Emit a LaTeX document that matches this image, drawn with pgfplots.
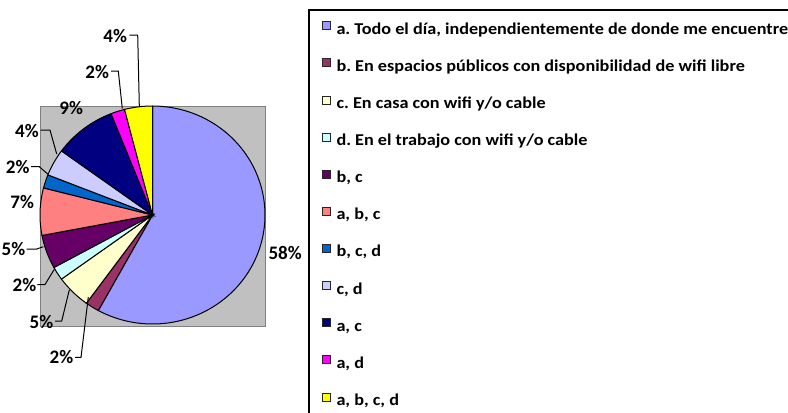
\documentclass[border=0pt]{standalone}
\usepackage{fontspec}
\setmainfont{Carlito}
\newfontfamily\legfont{Carlito}[FakeStretch=1.1]
\usepackage{pgfplots}
\pgfplotsset{compat=1.18}
\frenchspacing
\definecolor{ca}{HTML}{9999FF}
\definecolor{cb}{HTML}{993366}
\definecolor{cc}{HTML}{FFFFCC}
\definecolor{cd}{HTML}{CCFFFF}
\definecolor{cbc}{HTML}{660066}
\definecolor{cabc}{HTML}{FF8080}
\definecolor{cbcd}{HTML}{0066CC}
\definecolor{ccd}{HTML}{CCCCFF}
\definecolor{cac}{HTML}{000080}
\definecolor{cad}{HTML}{FF00FF}
\definecolor{cabcd}{HTML}{FFFF00}
\definecolor{plotgray}{HTML}{C0C0C0}
\definecolor{bordergray}{HTML}{808080}
% pie geometry (pixel units of the axis)
\def\cx{152.5}\def\cy{215}\def\rx{112.5}\def\ry{109}
\def\astart{90}
\newcommand\slice[3]{%
  \pgfmathsetmacro\aend{\astart-3.6*#1}%
  \edef\temp{\noexpand\addplot[fill=#2, draw=black, line width=0.75pt, domain=\aend:\astart, samples=90]
    ({\cx+\rx*cos(x)},{\cy-\ry*sin(x)}) -- (axis cs:\cx,\cy) -- cycle;}%
  \temp
  \addlegendentry{#3}%
  \global\let\astart\aend
}
\begin{document}
\begin{tikzpicture}
\begin{axis}[
  at={(0,0)}, anchor=south west,
  scale only axis, width=591pt, height=309pt,
  xmin=0, xmax=788, ymin=0, ymax=412, y dir=reverse,
  hide axis, clip=true,
  legend image code/.code={\draw[#1, draw=black!85, line width=0.7pt] (0pt,0.75pt) rectangle (6pt,6.75pt);},
  legend style={draw=none, fill=none, at={(axis cs:321.7,21)}, anchor=north west,
    inner sep=0pt, row sep=15.25pt, column sep=4.2pt,
    font=\legfont\bfseries\fontsize{12.4}{14}\selectfont,
    nodes={inner sep=0pt, text height=8pt, text depth=3pt}},
  legend cell align=left,
]
% plot area background
\addplot[fill=plotgray, draw=bordergray, line width=0.75pt, forget plot]
  coordinates {(40,106) (265,106) (265,326) (40,326)} -- cycle;
% legend frame (extends beyond the picture)
\addplot[draw=black, line width=0.9pt, forget plot]
  coordinates {(309,10) (820,10) (820,440) (309,440)} -- cycle;
% slices, clockwise from the top
\slice{58}{ca}{a. Todo el día, independientemente de donde me encuentre}
\slice{2}{cb}{b. En espacios públicos con disponibilidad de wifi libre}
\slice{5}{cc}{c. En casa con wifi y/o cable}
\slice{2}{cd}{d. En el trabajo con wifi y/o cable}
\slice{5}{cbc}{b, c}
\slice{7}{cabc}{a, b, c}
\slice{2}{cbcd}{b, c, d}
\slice{4}{ccd}{c, d}
\slice{9}{cac}{a, c}
\slice{2}{cad}{a, d}
\slice{4}{cabcd}{a, b, c, d}
% leader lines
\addplot[black, line width=0.75pt, forget plot] coordinates {(129.3,35) (137.7,35) (139.3,106)};
\addplot[black, line width=0.75pt, forget plot] coordinates {(111,71) (118.3,71) (122.3,108.5)};
\addplot[black, line width=0.75pt, forget plot] coordinates {(40.7,130) (50,130) (56.7,154)};
\addplot[black, line width=0.75pt, forget plot] coordinates {(31,166.7) (39.3,166.7) (47.7,174)};
\addplot[black, line width=0.75pt, forget plot] coordinates {(26.7,249) (36.7,249) (43.3,246.7)};
\addplot[black, line width=0.75pt, forget plot] coordinates {(37.3,284.5) (45,284.5) (54.3,269.3)};
\addplot[black, line width=0.75pt, forget plot] coordinates {(55,321) (61.7,321) (69.3,290)};
\addplot[black, line width=0.75pt, forget plot] coordinates {(75,357.3) (81,357.3) (88.3,297)};
% percentage labels
\begingroup
\def\L#1#2#3#4{\node[anchor=#3, inner sep=0pt, font=\bfseries\fontsize{14.3}{16}\selectfont] at (axis cs:#1,#2) {#4};}
\L{268.3}{253.3}{west}{58\%}
\L{127.3}{36}{east}{4\%}
\L{109.3}{71.7}{east}{2\%}
\L{83.3}{108.3}{east}{9\%}
\L{39}{131}{east}{4\%}
\L{29.8}{167.3}{east}{2\%}
\L{34.3}{202.3}{east}{7\%}
\L{25.5}{249.3}{east}{5\%}
\L{36.5}{285}{east}{2\%}
\L{53.5}{321.7}{east}{5\%}
\L{73.5}{357.3}{east}{2\%}
\endgroup
\end{axis}
\pgfresetboundingbox
\path[use as bounding box] (0,0) rectangle (591pt,309pt);
\end{tikzpicture}
\end{document}
